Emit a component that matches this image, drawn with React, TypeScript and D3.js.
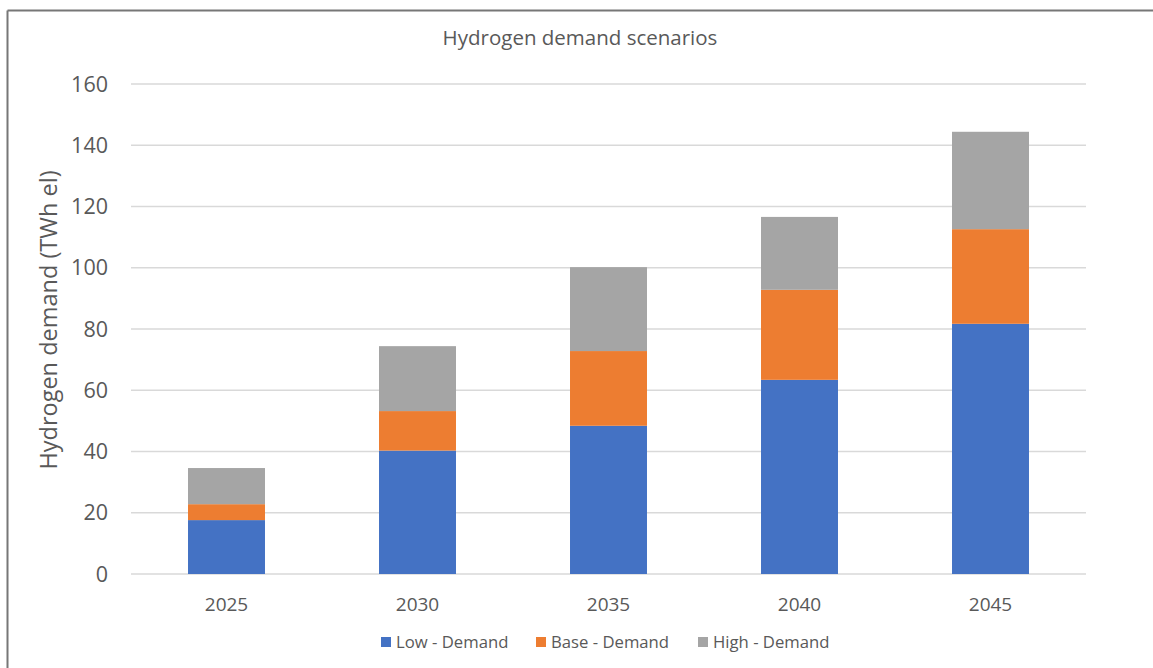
import React from "react";
import * as d3 from "d3";

const years = ["2025", "2030", "2035", "2040", "2045"];
const lowDemand = [17.6, 40.3, 48.4, 63.4, 81.7];
const baseDemand = [5.2, 12.9, 24.4, 29.4, 30.9];
const highDemand = [11.8, 21.2, 27.4, 23.8, 31.8];
const seriesNames = ["Low - Demand", "Base - Demand", "High - Demand"];
const seriesColors = ["#4472C4", "#ED7D31", "#A5A5A5"];
const yTicks = [0, 20, 40, 60, 80, 100, 120, 140, 160];

const W = 1153;
const H = 668;
const FONT = "'Open Sans', sans-serif";
const TEXT = "#595959";

export default function App() {
  const left = 131, right = 1086, top = 84, bottom = 574;
  const x = d3.scaleBand<string>().domain(years).range([left, right]).paddingInner(0.597).paddingOuter(0.2985);
  const y = d3.scaleLinear().domain([0, 160]).range([bottom, top]);

  const rows = years.map((yr, i) => ({ year: yr, low: lowDemand[i], base: baseDemand[i], high: highDemand[i] }));
  const stack = d3.stack<any>().keys(["low", "base", "high"]);
  const layers = stack(rows);

  const legendX = [381, 536, 698];

  return (
    <svg width={W} height={H} style={{ position: "absolute", left: 0, top: 0 }}>
      <rect x={0} y={0} width={W} height={H} fill="#fff" />
      <line x1={7.5} y1={10.5} x2={W} y2={10.5} stroke="#777" strokeWidth={2} />
      <line x1={7.5} y1={10.5} x2={7.5} y2={H} stroke="#777" strokeWidth={2} />
      <text x={580} y={45} textAnchor="middle" fontFamily={FONT} fontSize={20.5} fill={TEXT}>
        Hydrogen demand scenarios
      </text>
      {yTicks.map((t) => (
        <g key={t}>
          <line x1={left} x2={right} y1={y(t)} y2={y(t)} stroke="#D9D9D9" strokeWidth={1.3} />
          <text x={108} y={y(t) + 7.5} textAnchor="end" fontFamily={FONT} fontSize={21.5} fill={TEXT}>
            {t}
          </text>
        </g>
      ))}
      <text
        transform={`translate(57,${320}) rotate(-90)`}
        textAnchor="middle"
        fontFamily={FONT}
        fontSize={23.5}
        fill={TEXT}
      >
        Hydrogen demand (TWh el)
      </text>
      {layers.map((layer, li) => (
        <g key={li} fill={seriesColors[li]}>
          {layer.map((d: any, i: number) => (
            <rect
              key={i}
              x={x(years[i])}
              width={x.bandwidth()}
              y={y(d[1])}
              height={y(d[0]) - y(d[1])}
            />
          ))}
        </g>
      ))}
      {years.map((yr) => (
        <text key={yr} x={(x(yr) as number) + x.bandwidth() / 2} y={611} textAnchor="middle" fontFamily={FONT} fontSize={19} fill={TEXT}>
          {yr}
        </text>
      ))}
      {seriesNames.map((n, i) => (
        <g key={n}>
          <rect x={legendX[i]} y={637} width={10} height={10} fill={seriesColors[i]} />
          <text x={legendX[i] + 15} y={648} fontFamily={FONT} fontSize={16.7} fill={TEXT}>
            {n}
          </text>
        </g>
      ))}
    </svg>
  );
}
